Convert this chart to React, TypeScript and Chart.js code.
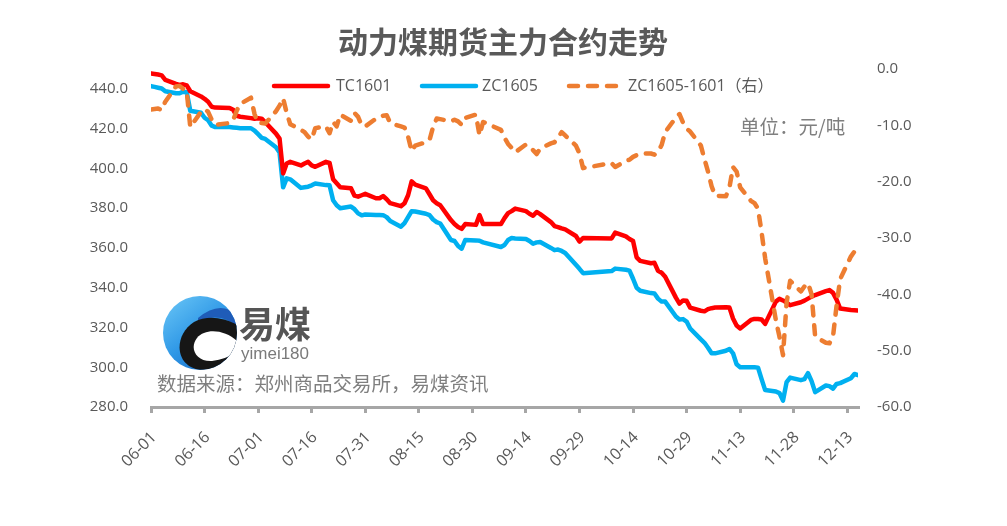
import React, { useEffect, useRef } from 'react';
import { Chart, registerables } from 'chart.js';

Chart.register(...registerables);

// ---- data ----
const TRADE_DATES = [
  '06-01','06-02','06-03','06-04','06-05','06-08','06-09','06-10','06-11','06-12',
  '06-15','06-16','06-17','06-18','06-19','06-23','06-24','06-25','06-26','06-29',
  '06-30','07-01','07-02','07-03','07-06','07-07','07-08','07-09','07-10','07-13',
  '07-14','07-15','07-16','07-17','07-20','07-21','07-22','07-23','07-24','07-27',
  '07-28','07-29','07-30','07-31','08-03','08-04','08-05','08-06','08-07','08-10',
  '08-11','08-12','08-13','08-14','08-17','08-18','08-19','08-20','08-21','08-24',
  '08-25','08-26','08-27','08-28','08-31','09-01','09-02','09-07','09-08','09-09',
  '09-10','09-11','09-14','09-15','09-16','09-17','09-18','09-21','09-22','09-23',
  '09-24','09-25','09-28','09-29','09-30','10-08','10-09','10-12','10-13','10-14',
  '10-15','10-16','10-19','10-20','10-21','10-22','10-23','10-26','10-27','10-28',
  '10-29','10-30','11-02','11-03','11-04','11-05','11-06','11-09','11-10','11-11',
  '11-12','11-13','11-16','11-17','11-18','11-19','11-20','11-23','11-24','11-25',
  '11-26','11-27','11-30','12-01','12-02','12-03','12-04','12-07','12-08','12-09',
  '12-10','12-11','12-14','12-15','12-16',
];

const TC1601 = [
  447.8, 447.5, 447.2, 446.8, 444.5, 442.5, 442.0, 442.3, 441.8, 438.8,
  436.2, 435.0, 433.5, 431.0, 430.6, 430.4, 429.5, 426.5, 426.0, 425.3,
  425.0, 425.2, 425.0, 423.2, 417.5, 415.0, 397.5, 402.5, 403.3, 401.5,
  402.5, 403.3, 401.5, 400.8, 403.3, 402.8, 394.5, 392.5, 390.5, 390.0,
  386.3, 385.8, 386.5, 387.2, 385.0, 385.0, 386.1, 384.5, 382.5, 381.0,
  382.5, 386.5, 393.5, 391.8, 390.0, 387.0, 384.0, 382.5, 381.5, 374.0,
  372.0, 370.5, 369.6, 372.0, 371.6, 376.5, 372.0, 372.0, 375.0, 377.5,
  378.5, 379.8, 378.5, 377.2, 376.2, 378.1, 377.0, 373.0, 371.0, 370.5,
  369.8, 369.3, 366.0, 363.2, 365.0, 364.8, 367.7, 365.8, 364.5, 363.5,
  355.3, 353.5, 352.3, 352.5, 348.5, 347.5, 345.5, 335.0, 332.0, 333.6,
  333.4, 330.0, 328.4, 328.1, 329.2, 329.7, 330.0, 330.2, 330.0, 324.5,
  321.0, 319.5, 323.8, 324.3, 324.3, 324.0, 321.8, 333.0, 334.4, 333.6,
  332.5, 331.2, 332.7, 333.5, 334.5, 335.5, 336.3, 338.3, 338.8, 337.4,
  334.0, 329.5, 328.8, 328.7, 328.5,
];

const ZC1605 = [
  441.4, 441.0, 440.6, 440.2, 438.8, 437.8, 437.8, 438.6, 438.3, 429.0,
  428.0, 425.5, 424.2, 421.5, 420.8, 420.8, 420.6, 420.4, 420.2, 420.2,
  419.0, 417.2, 415.4, 414.8, 410.6, 408.0, 390.5, 395.0, 394.5, 390.2,
  390.5, 390.8, 391.5, 392.4, 391.6, 391.5, 384.0, 381.5, 380.0, 380.8,
  379.5, 377.4, 376.4, 376.8, 376.6, 376.6, 376.5, 375.5, 373.5, 370.7,
  372.5, 375.5, 378.5, 378.3, 377.2, 376.5, 374.3, 373.0, 372.3, 364.0,
  363.5, 361.0, 359.6, 364.0, 363.8, 363.6, 362.8, 360.5, 361.5, 364.0,
  365.0, 364.8, 364.5, 363.5, 362.1, 362.8, 363.0, 360.0, 358.9, 359.2,
  358.5, 357.5, 351.5, 349.5, 347.3, 348.4, 349.6, 349.0, 348.6, 344.5,
  340.0, 338.5, 337.3, 337.1, 334.5, 333.0, 333.0, 325.5, 324.0, 324.2,
  323.0, 319.5, 314.0, 312.3, 309.8, 307.0, 307.0, 308.3, 309.2, 307.0,
  301.5, 300.0, 300.0, 300.0, 299.8, 294.0, 288.5, 287.8, 287.0, 283.2,
  292.5, 294.8, 293.5, 294.0, 297.0, 293.0, 287.5, 290.8, 290.5, 289.2,
  291.6, 292.0, 294.5, 296.6, 296.0,
];

const SPREAD = [
  -7.2, -7.1, -7.0, -7.3, -5.8, -3.1, -3.0, -3.5, -3.9, -10.3,
  -7.6, -7.1, -7.6, -9.0, -9.9, -9.6, -9.1, -7.4, -6.2, -5.1,
  -8.0, -9.6, -9.6, -9.7, -7.5, -6.5, -5.2, -7.8, -9.8, -10.8,
  -11.2, -12.0, -12.5, -10.5, -10.2, -11.4, -9.4, -10.2, -8.1, -9.2,
  -7.8, -8.5, -10.0, -10.2, -8.8, -8.6, -8.3, -8.2, -9.6, -10.2,
  -10.4, -12.0, -14.6, -13.6, -13.0, -12.6, -10.3, -8.8, -8.9, -9.3,
  -9.0, -9.3, -9.9, -8.7, -8.1, -11.8, -9.4, -10.8, -12.2, -13.3,
  -14.0, -14.8, -13.4, -13.8, -14.4, -15.1, -14.1, -13.2, -13.0, -12.2,
  -11.2, -11.8, -13.6, -15.0, -17.6, -16.7, -17.4, -16.3, -16.1, -15.6,
  -15.3, -15.0, -15.0, -15.2, -14.7, -13.5, -11.2, -8.6, -8.0, -9.5,
  -10.6, -11.1, -13.6, -16.0, -18.2, -20.8, -22.5, -22.6, -21.0, -17.4,
  -18.2, -21.0, -23.4, -23.8, -24.8, -29.0, -33.6, -44.6, -47.5, -50.8,
  -41.5, -37.6, -39.5, -38.6, -38.0, -40.0, -47.5, -48.6, -48.7, -47.5,
  -42.0, -37.3, -33.3, -32.4, -32.1,
];

const X_TICK_LABELS = [
  '06-01','06-16','07-01','07-16','07-31','08-15','08-30',
  '09-14','09-29','10-14','10-29','11-13','11-28','12-13',
];
const X_END = '12-16';
const LEFT_TICKS = [280, 300, 320, 340, 360, 380, 400, 420, 440];
const RIGHT_TICKS = [-60, -50, -40, -30, -20, -10, 0];

const TITLE = '动力煤期货主力合约走势';
const SERIES_NAMES = ['TC1601', 'ZC1605', 'ZC1605-1601（右）'];
const UNIT_TEXT = '单位：元/吨';
const SOURCE_TEXT = '数据来源：郑州商品交易所，易煤资讯';
const LOGO_NAME = '易煤';
const LOGO_SUB = 'yimei180';

// ---- helpers ----
const BASE = Date.UTC(2015, 5, 1);
const dayIndex = (md: string) => {
  const [m, d] = md.split('-').map(Number);
  return Math.round((Date.UTC(2015, m - 1, d) - BASE) / 86400000);
};
const tickLabelByDay: Record<number, string> = {};
X_TICK_LABELS.forEach((l) => { tickLabelByDay[dayIndex(l)] = l; });

const SANS = '"Open Sans", "Noto Sans CJK SC", sans-serif';
const CJK = '"Noto Sans CJK SC", sans-serif';
const TEXT = '#595959';

const RED = '#FF0000';
const BLUE = '#00B0F0';
const ORANGE = '#ED7D31';

function drawLogo(ctx: CanvasRenderingContext2D) {
  const cx = 200, cy = 333, r = 37;
  ctx.save();
  ctx.beginPath();
  ctx.arc(cx, cy, r, 0, Math.PI * 2);
  const g = ctx.createLinearGradient(cx - r, cy - r, cx + r * 0.6, cy + r);
  g.addColorStop(0, '#6cc8f7');
  g.addColorStop(0.55, '#2e97e6');
  g.addColorStop(1, '#1868c4');
  ctx.fillStyle = g;
  ctx.fill();
  ctx.clip();

  // dark blue wave at top right
  ctx.beginPath();
  ctx.moveTo(198, 318);
  ctx.quadraticCurveTo(222, 298, 240, 318);
  ctx.lineTo(240, 330);
  ctx.quadraticCurveTo(222, 310, 198, 322);
  ctx.closePath();
  ctx.fillStyle = '#1f5cb8';
  ctx.fill();

  // black swoosh
  ctx.beginPath();
  ctx.moveTo(240, 326);
  ctx.quadraticCurveTo(214, 312, 194, 322);
  ctx.bezierCurveTo(172, 336, 175, 370, 204, 370);
  ctx.quadraticCurveTo(224, 369, 240, 352);
  ctx.closePath();
  ctx.fillStyle = '#161616';
  ctx.fill();

  // white inner
  ctx.beginPath();
  ctx.moveTo(240, 344);
  ctx.bezierCurveTo(228, 330, 206, 327, 197, 338);
  ctx.bezierCurveTo(189, 348, 196, 362, 212, 361);
  ctx.quadraticCurveTo(228, 359, 240, 350);
  ctx.closePath();
  ctx.fillStyle = '#ffffff';
  ctx.fill();
  ctx.restore();

  ctx.save();
  ctx.fillStyle = '#555555';
  ctx.font = `bold 36px ${CJK}`;
  ctx.textAlign = 'left';
  ctx.textBaseline = 'middle';
  ctx.fillText(LOGO_NAME, 239, 324);
  ctx.fillStyle = '#7a7a7a';
  ctx.font = '17px "Liberation Sans", sans-serif';
  ctx.fillText(LOGO_SUB, 241, 354);
  ctx.restore();
}

const decorPlugin = {
  id: 'decor',
  afterDraw(chart: any) {
    const ctx = chart.ctx as CanvasRenderingContext2D;
    ctx.save();
    // title
    ctx.fillStyle = TEXT;
    ctx.font = `bold 30px ${CJK}`;
    ctx.textAlign = 'center';
    ctx.textBaseline = 'middle';
    ctx.fillText(TITLE, 503, 42);

    // legend
    const ly = 86;
    const items = [
      { x0: 274, x1: 328, tx: 336, color: RED, dash: [] as number[] },
      { x0: 422, x1: 476, tx: 482, color: BLUE, dash: [] as number[] },
      { x0: 569, x1: 623, tx: 628, color: ORANGE, dash: [9, 10] },
    ];
    items.forEach((it, i) => {
      ctx.beginPath();
      ctx.setLineDash(it.dash);
      ctx.lineCap = 'round';
      ctx.lineWidth = 4.5;
      ctx.strokeStyle = it.color;
      ctx.moveTo(it.x0, ly);
      ctx.lineTo(it.x1, ly);
      ctx.stroke();
      ctx.setLineDash([]);
      ctx.fillStyle = TEXT;
      ctx.font = `16px ${SANS}`;
      ctx.textAlign = 'left';
      ctx.textBaseline = 'middle';
      ctx.fillText(SERIES_NAMES[i], it.tx, ly);
    });

    // unit
    ctx.fillStyle = '#7f7f7f';
    ctx.font = `19.5px ${CJK}`;
    ctx.textAlign = 'left';
    ctx.fillText(UNIT_TEXT, 740, 127);

    // source
    ctx.fillText(SOURCE_TEXT, 157, 384);
    ctx.restore();

    drawLogo(ctx);
  },
};

export default function App() {
  const ref = useRef<HTMLCanvasElement | null>(null);

  useEffect(() => {
    if (!ref.current) return;
    const xs = TRADE_DATES.map(dayIndex);
    const mk = (vals: number[]) => vals.map((v, i) => ({ x: xs[i], y: v }));

    const chart = new Chart(ref.current, {
      type: 'line',
      data: {
        datasets: [
          {
            label: SERIES_NAMES[0],
            data: mk(TC1601),
            borderColor: RED,
            backgroundColor: RED,
            borderWidth: 4.5,
            pointRadius: 0,
            tension: 0,
            borderJoinStyle: 'round',
            borderCapStyle: 'round',
            yAxisID: 'y',
            order: 1,
          },
          {
            label: SERIES_NAMES[1],
            data: mk(ZC1605),
            borderColor: BLUE,
            backgroundColor: BLUE,
            borderWidth: 4.5,
            pointRadius: 0,
            tension: 0,
            borderJoinStyle: 'round',
            borderCapStyle: 'round',
            yAxisID: 'y',
            order: 2,
          },
          {
            label: SERIES_NAMES[2],
            data: mk(SPREAD),
            borderColor: ORANGE,
            backgroundColor: ORANGE,
            borderWidth: 4.5,
            borderDash: [9, 10],
            borderCapStyle: 'round',
            borderJoinStyle: 'round',
            pointRadius: 0,
            tension: 0,
            yAxisID: 'y1',
            order: 0,
          },
        ],
      },
      options: {
        responsive: false,
        devicePixelRatio: 1,
        animation: false,
        events: [],
        layout: { padding: { top: 69, left: 0, right: 0, bottom: 0 } },
        plugins: {
          legend: { display: false },
          title: { display: false },
          tooltip: { enabled: false },
        },
        scales: {
          x: {
            type: 'linear',
            min: 0,
            max: dayIndex(X_END),
            afterBuildTicks: (s: any) => {
              s.ticks = X_TICK_LABELS.map((l) => ({ value: dayIndex(l) }));
            },
            afterFit: (s: any) => { s.height = 119; },
            grid: {
              display: true,
              drawOnChartArea: false,
              drawTicks: true,
              tickLength: 6,
              lineWidth: 3,
              color: '#a6a6a6',
            },
            border: { display: true, color: '#a6a6a6', width: 3 },
            ticks: {
              autoSkip: false,
              minRotation: 45,
              maxRotation: 45,
              padding: 15,
              labelOffset: 3,
              color: TEXT,
              font: { family: SANS, size: 16 },
              callback: (v: any) => tickLabelByDay[Math.round(Number(v))] ?? '',
            },
          },
          y: {
            type: 'linear',
            position: 'left',
            min: 280,
            max: 450,
            afterBuildTicks: (s: any) => {
              s.ticks = LEFT_TICKS.map((v) => ({ value: v }));
            },
            afterFit: (s: any) => { s.width = 151; },
            grid: { display: false, drawTicks: false },
            border: { display: false },
            ticks: {
              padding: 23,
              color: TEXT,
              font: { family: SANS, size: 15 },
              callback: (v: any) => Number(v).toFixed(1),
            },
          },
          y1: {
            type: 'linear',
            position: 'right',
            min: -60,
            max: 0,
            afterBuildTicks: (s: any) => {
              s.ticks = RIGHT_TICKS.map((v) => ({ value: v }));
            },
            afterFit: (s: any) => { s.width = 149; },
            grid: { display: false, drawTicks: false },
            border: { display: false },
            ticks: {
              padding: 19,
              color: TEXT,
              font: { family: SANS, size: 15 },
              callback: (v: any) => Number(v).toFixed(1),
            },
          },
        },
      },
      plugins: [decorPlugin],
    } as any);

    return () => chart.destroy();
  }, []);

  return (
    <div style={{ position: 'absolute', left: 0, top: 0, width: 1007, height: 526, background: '#ffffff' }}>
      <canvas ref={ref} width={1007} height={526} style={{ display: 'block', width: 1007, height: 526 }} />
    </div>
  );
}
